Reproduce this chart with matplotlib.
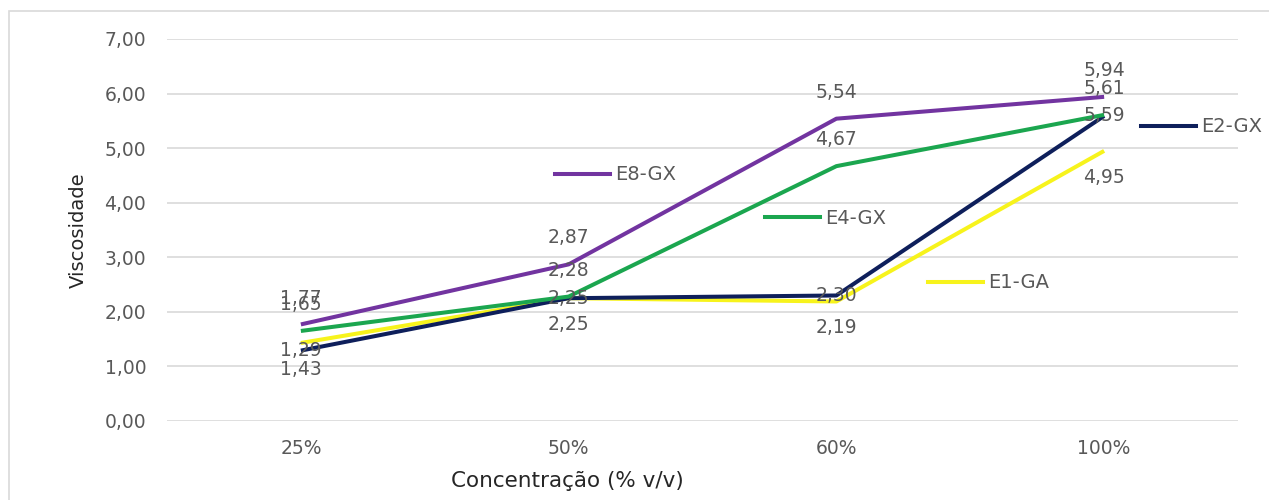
import matplotlib
matplotlib.use("Agg")
import matplotlib.pyplot as plt
from matplotlib.lines import Line2D
from matplotlib.patches import Rectangle

plt.rcParams['font.family'] = ['DejaVu Sans']

categories = ["25%", "50%", "60%", "100%"]
e8_gx = [1.77, 2.87, 5.54, 5.94]
e4_gx = [1.65, 2.28, 4.67, 5.61]
e2_gx = [1.29, 2.25, 2.30, 5.59]
e1_ga = [1.43, 2.25, 2.19, 4.95]
y_ticks = [0, 1, 2, 3, 4, 5, 6, 7]

series = [
    # name, values, colour, label offset (points), legend anchor (fig px)
    ("E1-GA", e1_ga, "#F7F31C", -19, (928, 283)),
    ("E2-GX", e2_gx, "#0E1F5B", 0, (1141, 127)),
    ("E4-GX", e4_gx, "#1BA64F", 19, (765, 218)),
    ("E8-GX", e8_gx, "#7234A0", 19, (555, 175)),
]

W, H = 1269, 500
fig = plt.figure(figsize=(W / 100, H / 100), dpi=100)
fig.patch.set_facecolor("white")

# chart area frame
fig.patches.append(Rectangle((9 / W, -0.05), 1.1, 1 - 11 / H + 0.05,
                             transform=fig.transFigure, fill=False,
                             edgecolor="#D9D9D9", lw=1.2))

ax = fig.add_axes([167 / W, 1 - 421 / H, 1071 / W, 382 / H])
x = list(range(len(categories)))

text_col = "#595959"
lab_size = 13.5
for name, vals, col, dy, _ in series:
    ax.plot(x, vals, color=col, lw=2.9, solid_capstyle="butt", zorder=3)

for name, vals, col, dy, _ in series:
    for xi, v in zip(x, vals):
        ax.annotate(f"{v:.2f}".replace(".", ","), (xi, v),
                    xytext=(0, dy), textcoords="offset points",
                    ha="center", va="center", fontsize=lab_size,
                    color=text_col, zorder=4)

ax.set_xlim(-0.5, len(categories) - 0.5)
ax.set_ylim(0, 7)
ax.set_yticks(y_ticks)
ax.set_yticklabels([f"{t:.2f}".replace(".", ",") for t in y_ticks])
ax.set_xticks(x)
ax.set_xticklabels(categories)
ax.tick_params(axis="both", length=0, labelsize=lab_size, labelcolor=text_col)
ax.tick_params(axis="y", pad=15)
ax.tick_params(axis="x", pad=13)
ax.grid(axis="y", color="#D9D9D9", lw=1.2)
ax.set_axisbelow(True)
for s in ax.spines.values():
    s.set_visible(False)

ax.set_ylabel("Viscosidade", fontsize=14, color="#262626")
ax.set_xlabel("Concentração (% v/v)", fontsize=15.5, color="#262626")
ax.yaxis.label.set_va("center")
ax.xaxis.label.set_va("center")
ax.yaxis.set_label_coords((78 - 167) / 1071, 0.5)
ax.xaxis.set_label_coords((567 - 167) / 1071, (421 - 481) / 382)

# series labels placed beside the lines
for name, vals, col, dy, (px, py) in series:
    h = Line2D([], [], color=col, lw=2.9)
    fig.legend([h], [name], loc="center left",
               bbox_to_anchor=(px / W, 1 - py / H),
               frameon=False, borderpad=0, borderaxespad=0,
               handlelength=2.85, handletextpad=0.26,
               fontsize=14, labelcolor=text_col)

fig.savefig("out.png", dpi=100)
